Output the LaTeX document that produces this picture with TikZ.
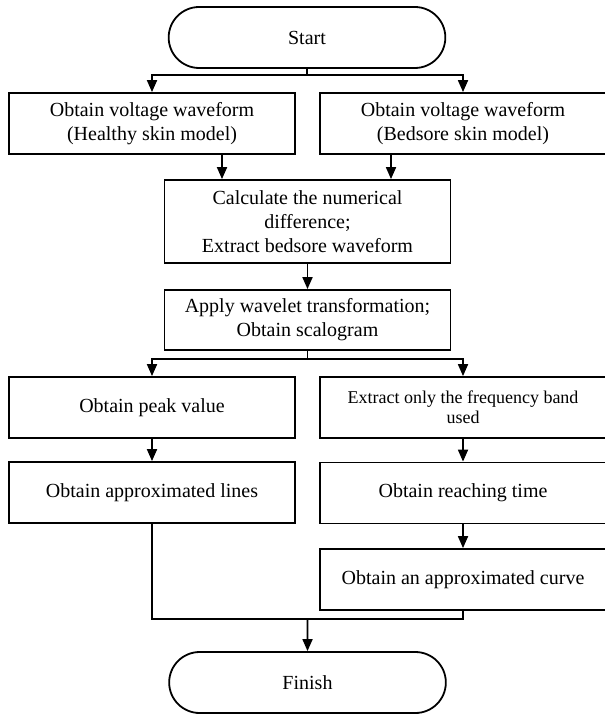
\documentclass[tikz,border=0pt]{standalone}
\usepackage{fontspec}
\setmainfont{Liberation Serif}
\usetikzlibrary{shapes.misc,arrows.meta,calc}

\begin{document}
\begin{tikzpicture}[x=0.5pt, y=-0.5pt, line width=0.9pt,
        every node/.style={draw, align=center, font=\fontsize{10}{12}\selectfont},
        stepbox/.style={rectangle, minimum width=143pt, minimum height=30.5pt, inner sep=2pt},
        ends/.style={rounded rectangle, minimum width=145pt, minimum height=30.5pt},
        >={Triangle[length=6pt, width=5pt]}]
        \useasboundingbox (0,0) rectangle (604,715);

        \node[ends] (start) at (307,37.5) {Start};
        \coordinate (s1) at (307,75);

        \node[stepbox] (healthy) at (152,123.5) {Obtain voltage waveform\\(Healthy skin model)};
        \node[stepbox] (bedsore) at (463,123.5) {Obtain voltage waveform\\(Bedsore skin model)};
        \draw (start) -- (s1); \draw[->] (s1) -| (healthy); \draw[->] (s1) -| (bedsore);

        \node[stepbox, minimum height=41.5pt] (diff) at (307.5,221.5) {Calculate the numerical\\difference;\\Extract bedsore waveform};
        \draw[->] ([xshift=35pt]healthy.south) -- ([xshift=35pt]healthy.south |- diff.north);
        \draw[->] ([xshift=-36pt]bedsore.south) -- ([xshift=-36pt]bedsore.south |- diff.north);

        \node[stepbox, minimum height=30pt] (wavelet) at (307.5,320) {Apply wavelet transformation;\\Obtain scalogram};
        \draw[->] (diff) -- (wavelet);
        \coordinate (s2) at (307.5,359);

        \node[stepbox] (peak) at (152,407.5) {Obtain peak value};
        \node[stepbox, font=\fontsize{9}{10}\selectfont] (band) at (463,407.5) {Extract only the frequency band\\used};
        \draw (wavelet) -- (s2); \draw[->] (s2) -| (peak); \draw[->] (s2) -| (band);

        \node[stepbox] (lines) at (152,492.5) {Obtain approximated lines};
        \node[stepbox] (reach) at (463,493) {Obtain reaching time};
        \node[stepbox] (curve) at (463,579.5) {Obtain an approximated curve};
        \draw[->] (peak) -- (lines); \draw[->] (band) -- (reach); \draw[->] (reach) -- (curve);

        \coordinate (s3) at (307.5,619);
        \node[ends] (finish) at (307.5,682.5) {Finish};
        \draw (lines) |- (s3); \draw (curve) |- (s3); \draw[->] (s3) -- (finish);
    \end{tikzpicture}
\end{document}
